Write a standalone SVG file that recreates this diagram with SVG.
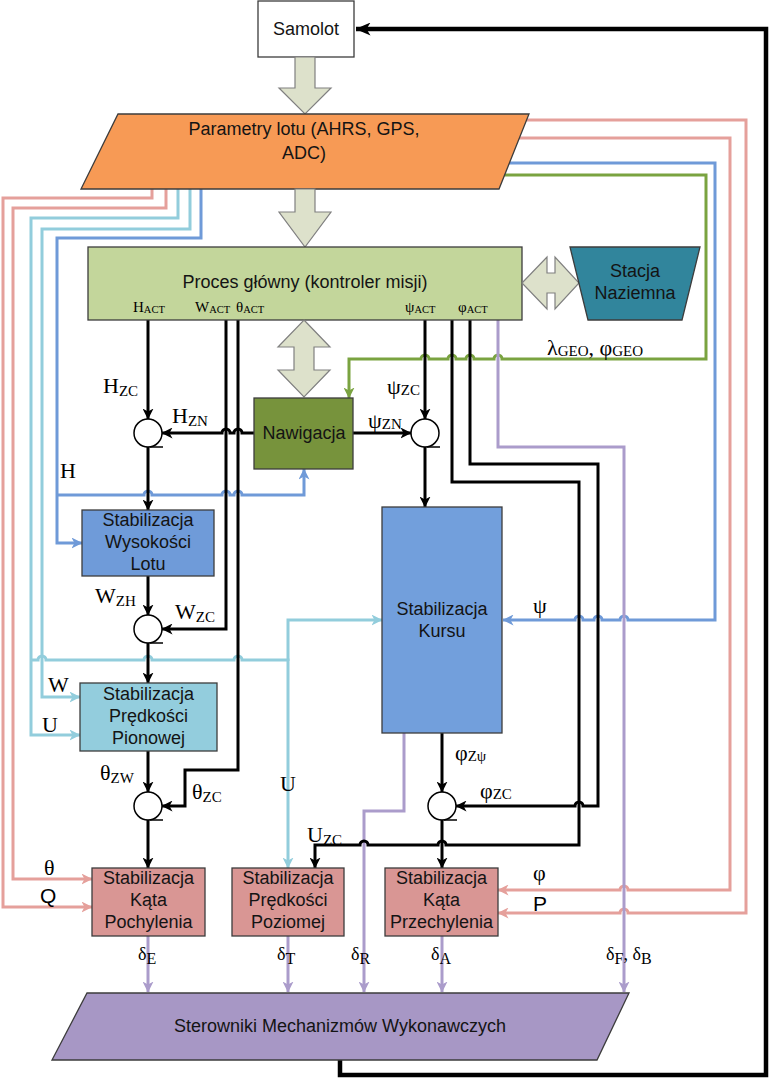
<svg xmlns="http://www.w3.org/2000/svg" width="771" height="1079" viewBox="0 0 771 1079">
<style>
.bx{stroke:#3c3c3c;stroke-width:1.3}
.t{font-family:"Liberation Sans",Arial,sans-serif;font-size:18px;fill:#141414;text-anchor:middle}
.l{font-family:"Liberation Serif","Times New Roman",serif;font-size:22px;fill:#000}
.l tspan.s{font-size:15px}
.a{font-family:"Liberation Serif","Times New Roman",serif;font-size:15px;fill:#000}
.a tspan{font-size:10.5px}
.d{font-family:"Liberation Serif","Times New Roman",serif;font-size:18px;fill:#000}
.d tspan.s{font-size:16px}
.q{font-family:"Liberation Sans",Arial,sans-serif;font-size:21px;fill:#000}
.c{fill:none;stroke-width:3;stroke-linejoin:miter}
.k{stroke:#000}
.pk{stroke:#e5a09b}
.lb{stroke:#92cddc}
.bl{stroke:#6f9ad8}
.gr{stroke:#7aa340}
.pu{stroke:#ab9ccb}
.blk{fill:#dde1cb;stroke:#808080;stroke-width:1.2}
.sum{fill:#fff;stroke:#000;stroke-width:1.5}
</style>
<defs>
<marker id="mk" markerUnits="userSpaceOnUse" viewBox="0 0 11 11" markerWidth="11" markerHeight="11" refX="10.5" refY="5.5" orient="auto"><path d="M0,0 L11,5.5 L0,11 L3,5.5 z" fill="#000"/></marker>
<marker id="mpk" markerUnits="userSpaceOnUse" viewBox="0 0 11 11" markerWidth="11" markerHeight="11" refX="10.5" refY="5.5" orient="auto"><path d="M0,0 L11,5.5 L0,11 L3,5.5 z" fill="#e5a09b"/></marker>
<marker id="mlb" markerUnits="userSpaceOnUse" viewBox="0 0 11 11" markerWidth="11" markerHeight="11" refX="10.5" refY="5.5" orient="auto"><path d="M0,0 L11,5.5 L0,11 L3,5.5 z" fill="#92cddc"/></marker>
<marker id="mbl" markerUnits="userSpaceOnUse" viewBox="0 0 11 11" markerWidth="11" markerHeight="11" refX="10.5" refY="5.5" orient="auto"><path d="M0,0 L11,5.5 L0,11 L3,5.5 z" fill="#6f9ad8"/></marker>
<marker id="mgr" markerUnits="userSpaceOnUse" viewBox="0 0 11 11" markerWidth="11" markerHeight="11" refX="10.5" refY="5.5" orient="auto"><path d="M0,0 L11,5.5 L0,11 L3,5.5 z" fill="#7aa340"/></marker>
<marker id="mpu" markerUnits="userSpaceOnUse" viewBox="0 0 11 11" markerWidth="11" markerHeight="11" refX="10.5" refY="5.5" orient="auto"><path d="M0,0 L11,5.5 L0,11 L3,5.5 z" fill="#ab9ccb"/></marker>
<marker id="mbig" markerUnits="userSpaceOnUse" viewBox="0 0 15 13" markerWidth="15" markerHeight="13" refX="14.5" refY="6.5" orient="auto"><path d="M0,0 L15,6.5 L0,13 L4,6.5 z" fill="#000"/></marker>
</defs>

<g id="connectors">
<path class="c pk" d="M152,186 V198 H3 V907 H92" marker-end="url(#mpk)"/>
<path class="c pk" d="M166,186 V208 H13 V879 H92" marker-end="url(#mpk)"/>
<path class="c pk" d="M515,120 H746 V913 H628 A4,4 0 0 0 620,913 H498" marker-end="url(#mpk)"/>
<path class="c pk" d="M510,138 H730 V890 H628 A4,4 0 0 0 620,890 H498" marker-end="url(#mpk)"/>
<path class="c lb" d="M178,186 V218 H31 V735 H80" marker-end="url(#mlb)"/>
<path class="c lb" d="M190,186 V229 H42 V697 H80" marker-end="url(#mlb)"/>
<path class="c lb" d="M31,660 H38 A4,4 0 0 1 46,660 H144 A4,4 0 0 1 152,660 H234 A4,4 0 0 1 242,660 H288 V868" marker-end="url(#mlb)"/>
<path class="c lb" d="M288,661 V620 H382" marker-end="url(#mlb)"/>
<path class="c bl" d="M201,186 V238 H57 V543 H82" marker-end="url(#mbl)"/>
<path class="c bl" d="M57,495 H144 A4,4 0 0 1 152,495 H222 A4,4 0 0 1 230,495 H234 A4,4 0 0 1 242,495 H304 V469" marker-end="url(#mbl)"/>
<path class="c bl" d="M500,163 H715 V620 H628 A4,4 0 0 0 620,620 H602 A4,4 0 0 0 594,620 H583 A4,4 0 0 0 575,620 H503" marker-end="url(#mbl)"/>
<path class="c gr" d="M495,175 H706 V359 H502 A4,4 0 0 0 494,359 H474 A4,4 0 0 0 466,359 H456 A4,4 0 0 0 448,359 H429 A4,4 0 0 0 421,359 H349 V398" marker-end="url(#mgr)"/>
<path class="c pu" d="M498,318 V447 H624 V992" marker-end="url(#mpu)"/>
<path class="c pu" d="M404,731 V811 H364 V992" marker-end="url(#mpu)"/>
<path class="c pu" d="M148,936 V992" marker-end="url(#mpu)"/>
<path class="c pu" d="M288,936 V992" marker-end="url(#mpu)"/>
<path class="c pu" d="M442,936 V992" marker-end="url(#mpu)"/>
<path class="c k" d="M148,320 V419" marker-end="url(#mk)"/>
<path class="c k" d="M148,447 V510" marker-end="url(#mk)"/>
<path class="c k" d="M226,320 V629 H162" marker-end="url(#mk)"/>
<path class="c k" d="M238,320 V770 H185 V806 H162" marker-end="url(#mk)"/>
<path class="c k" d="M148,576 V615" marker-end="url(#mk)"/>
<path class="c k" d="M148,643 V683" marker-end="url(#mk)"/>
<path class="c k" d="M148,751 V792" marker-end="url(#mk)"/>
<path class="c k" d="M148,820 V868" marker-end="url(#mk)"/>
<path class="c k" d="M254,433 H242 A4,4 0 0 0 234,433 H230 A4,4 0 0 0 222,433 H162" marker-end="url(#mk)"/>
<path class="c k" d="M353,433 H411" marker-end="url(#mk)"/>
<path class="c k" d="M425,320 V419" marker-end="url(#mk)"/>
<path class="c k" d="M425,447 V507" marker-end="url(#mk)"/>
<path class="c k" d="M452,320 V482 H579 V845 H446 A4,4 0 0 0 438,845 H368 A4,4 0 0 0 360,845 H315 V868" marker-end="url(#mk)"/>
<path class="c k" d="M470,320 V464 H598 V806 H583 A4,4 0 0 0 575,806 H456" marker-end="url(#mk)"/>
<path class="c k" d="M442,733 V792" marker-end="url(#mk)"/>
<path class="c k" d="M442,820 V868" marker-end="url(#mk)"/>
<path fill="none" stroke="#000" stroke-width="4.5" d="M340,1058 V1075 H766 V29 H356" marker-end="url(#mbig)"/>
</g>

<g id="samolot">
<rect class="bx" x="258" y="1" width="96" height="56" fill="#fff"/>
<text class="t" x="306" y="35">Samolot</text>
</g>
<g id="arrow-samolot-parametry">
<path class="blk" d="M295,57 H315 V88 H331 L305,114 L279,88 H295 Z"/>
</g>
<g id="parametry">
<path class="bx" d="M118,114 H529 L499,189 H81 Z" fill="#f79a55"/>
<text class="t" x="304" y="135">Parametry lotu (AHRS, GPS,</text>
<text class="t" x="304" y="159">ADC)</text>
</g>
<g id="arrow-parametry-proces">
<path class="blk" d="M295,189 H315 V212 H331 L305,247 L279,212 H295 Z"/>
</g>
<g id="proces">
<rect class="bx" x="88" y="247" width="434" height="73" fill="#c3d69b"/>
<text class="t" x="305" y="288">Proces główny (kontroler misji)</text>
<text class="a" x="133" y="312">H<tspan dy="1">ACT</tspan></text>
<text class="a" x="195" y="312">W<tspan dy="1">ACT</tspan></text>
<text class="a" x="236" y="312">θ<tspan dy="1">ACT</tspan></text>
<text class="a" x="405" y="312">ψ<tspan dy="1">ACT</tspan></text>
<text class="a" x="458" y="312">φ<tspan dy="1">ACT</tspan></text>
</g>
<g id="arrow-proces-stacja">
<path class="blk" d="M522,283 L547,257 V273 H555 V257 L579,283 L555,309 V293 H547 V309 Z"/>
</g>
<g id="stacja">
<path class="bx" d="M570,247 H700 L682,320 H588 Z" fill="#31859c"/>
<text class="t" x="635" y="277">Stacja</text>
<text class="t" x="635" y="299">Naziemna</text>
</g>
<g id="arrow-proces-nawigacja">
<path class="blk" d="M304,320 L330,347 H314 V370 H330 L304,397 L278,370 H294 V347 H278 Z"/>
</g>
<g id="nawigacja">
<rect class="bx" x="254" y="398" width="99" height="71" fill="#77933c"/>
<text class="t" x="304" y="439">Nawigacja</text>
</g>
<g id="sum1"><circle class="sum" cx="148" cy="433" r="14"/><line x1="150" y1="447" x2="163" y2="447" stroke="#000" stroke-width="1.5"/></g>
<g id="sum2"><circle class="sum" cx="148" cy="629" r="14"/><line x1="150" y1="643" x2="163" y2="643" stroke="#000" stroke-width="1.5"/></g>
<g id="sum3"><circle class="sum" cx="148" cy="806" r="14"/><line x1="150" y1="820" x2="163" y2="820" stroke="#000" stroke-width="1.5"/></g>
<g id="sum4"><circle class="sum" cx="425" cy="433" r="14"/><line x1="427" y1="447" x2="440" y2="447" stroke="#000" stroke-width="1.5"/></g>
<g id="sum5"><circle class="sum" cx="442" cy="806" r="14"/><line x1="444" y1="820" x2="457" y2="820" stroke="#000" stroke-width="1.5"/></g>

<g id="wysokosci">
<rect class="bx" x="82" y="510" width="132" height="66" fill="#6f9bd9"/>
<text class="t" x="148" y="526">Stabilizacja</text>
<text class="t" x="148" y="548">Wysokości</text>
<text class="t" x="148" y="570">Lotu</text>
</g>
<g id="kursu">
<rect class="bx" x="382" y="507" width="120" height="226" fill="#729fdc"/>
<text class="t" x="442" y="615">Stabilizacja</text>
<text class="t" x="442" y="637">Kursu</text>
</g>
<g id="pionowej">
<rect class="bx" x="80" y="683" width="137" height="68" fill="#93cddd"/>
<text class="t" x="148.5" y="700">Stabilizacja</text>
<text class="t" x="148.5" y="722">Prędkości</text>
<text class="t" x="148.5" y="744">Pionowej</text>
</g>
<g id="pochylenia">
<rect class="bx" x="92" y="868" width="113" height="68" fill="#d99694"/>
<text class="t" x="148.5" y="884">Stabilizacja</text>
<text class="t" x="148.5" y="906">Kąta</text>
<text class="t" x="148.5" y="928">Pochylenia</text>
</g>
<g id="poziomej">
<rect class="bx" x="232" y="868" width="112" height="68" fill="#d99694"/>
<text class="t" x="288" y="884">Stabilizacja</text>
<text class="t" x="288" y="906">Prędkości</text>
<text class="t" x="288" y="928">Poziomej</text>
</g>
<g id="przechylenia">
<rect class="bx" x="385" y="868" width="113" height="68" fill="#d99694"/>
<text class="t" x="441.5" y="884">Stabilizacja</text>
<text class="t" x="441.5" y="906">Kąta</text>
<text class="t" x="441.5" y="928">Przechylenia</text>
</g>
<g id="sterowniki">
<path class="bx" d="M87,993 H629 L597,1060 H52 Z" fill="#a797c5"/>
<text class="t" x="340" y="1032">Sterowniki Mechanizmów Wykonawczych</text>
</g>

<g id="labels">
<text class="l" x="103" y="393">H<tspan class="s" dy="3">ZC</tspan></text>
<text class="l" x="172" y="423">H<tspan class="s" dy="3">ZN</tspan></text>
<text class="l" x="60" y="478">H</text>
<text class="l" x="387" y="394">ψ<tspan class="s" dy="1">ZC</tspan></text>
<text class="l" x="368" y="428">ψ<tspan class="s" dy="1">ZN</tspan></text>
<text class="l" x="547" y="355">λ<tspan class="s" dy="1">GEO</tspan><tspan dy="-1">, φ</tspan><tspan class="s" dy="1">GEO</tspan></text>
<text class="l" x="95" y="603">W<tspan class="s" dy="3">ZH</tspan></text>
<text class="l" x="175" y="619">W<tspan class="s" dy="3">ZC</tspan></text>
<text class="l" x="48" y="692">W</text>
<text class="l" x="42" y="732">U</text>
<text class="l" x="100" y="780">θ<tspan class="s" dy="3">ZW</tspan></text>
<text class="l" x="192" y="799">θ<tspan class="s" dy="3">ZC</tspan></text>
<text class="l" x="280" y="791">U</text>
<text class="l" x="533" y="613">ψ</text>
<text class="l" x="455" y="760">φ<tspan class="s" dy="1">Zψ</tspan></text>
<text class="l" x="480" y="798">φ<tspan class="s" dy="1">ZC</tspan></text>
<text class="l" x="307" y="842">U<tspan class="s" dy="3">ZC</tspan></text>
<text class="l" x="44" y="875">θ</text>
<text class="q" x="40" y="903">Q</text>
<text class="l" x="533" y="880">φ</text>
<text class="q" x="533" y="911">P</text>
<text class="d" x="138" y="960">δ<tspan class="s" dy="4">E</tspan></text>
<text class="d" x="277" y="960">δ<tspan class="s" dy="4">T</tspan></text>
<text class="d" x="351" y="960">δ<tspan class="s" dy="4">R</tspan></text>
<text class="d" x="431" y="960">δ<tspan class="s" dy="4">A</tspan></text>
<text class="d" x="606" y="960">δ<tspan class="s" dy="4">F</tspan><tspan dy="-4">, δ</tspan><tspan class="s" dy="4">B</tspan></text>
</g>
</svg>
